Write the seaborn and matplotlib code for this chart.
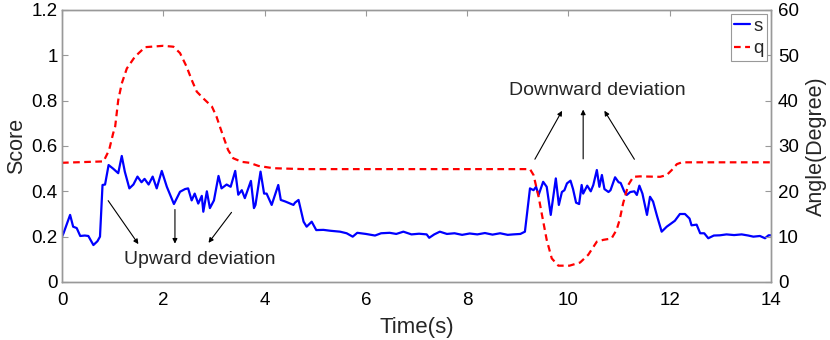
import pandas as pd
import seaborn as sns
import matplotlib.pyplot as plt
import numpy as np

# score s (left axis)
s_time = [0.0, 0.03, 0.16, 0.22, 0.29, 0.36, 0.45, 0.52, 0.62, 0.70, 0.75, 0.80, 0.85, 0.92,
          1.01, 1.11, 1.18, 1.24, 1.33, 1.41, 1.49, 1.57, 1.63, 1.71, 1.79, 1.87, 1.97, 2.07,
          2.21, 2.33, 2.43, 2.49, 2.56, 2.62, 2.69, 2.76, 2.79, 2.86, 2.92, 3.00, 3.09, 3.15,
          3.25, 3.33, 3.42, 3.48, 3.55, 3.61, 3.73, 3.79, 3.82, 3.92, 3.99, 4.04, 4.14, 4.27,
          4.32, 4.41, 4.57, 4.60, 4.67, 4.77, 4.83, 4.93, 5.02, 5.16, 5.30, 5.49, 5.62, 5.74,
          5.83, 6.00, 6.18, 6.30, 6.47, 6.60, 6.74, 6.90, 7.05, 7.20, 7.25, 7.35, 7.46, 7.60,
          7.75, 7.90, 8.05, 8.20, 8.35, 8.50, 8.65, 8.80, 8.91, 9.05, 9.14, 9.24, 9.31, 9.36,
          9.41, 9.50, 9.57, 9.65, 9.75, 9.81, 9.87, 9.92, 9.97, 10.04, 10.09, 10.15, 10.21,
          10.26, 10.29, 10.37, 10.44, 10.49, 10.56, 10.61, 10.66, 10.71, 10.79, 10.83, 10.92,
          10.99, 11.03, 11.10, 11.15, 11.22, 11.30, 11.35, 11.40, 11.46, 11.55, 11.61, 11.67,
          11.75, 11.84, 11.94, 12.10, 12.20, 12.30, 12.39, 12.43, 12.53, 12.60, 12.68, 12.76,
          12.87, 12.99, 13.12, 13.27, 13.42, 13.55, 13.65, 13.78, 13.88, 13.95, 14.0]
s_score = [0.20, 0.215, 0.296, 0.244, 0.238, 0.203, 0.205, 0.203, 0.163, 0.18, 0.20, 0.428, 0.43, 0.516,
           0.50, 0.48, 0.556, 0.487, 0.413, 0.43, 0.465, 0.44, 0.455, 0.43, 0.465, 0.413, 0.49, 0.42,
           0.344, 0.398, 0.41, 0.413, 0.36, 0.39, 0.346, 0.38, 0.31, 0.40, 0.326, 0.36, 0.468, 0.413,
           0.43, 0.42, 0.49, 0.385, 0.405, 0.37, 0.446, 0.326, 0.34, 0.487, 0.39, 0.39, 0.34, 0.428,
           0.362, 0.355, 0.34, 0.35, 0.362, 0.266, 0.244, 0.266, 0.229, 0.23, 0.226, 0.222, 0.215, 0.20,
           0.217, 0.212, 0.205, 0.215, 0.217, 0.212, 0.222, 0.21, 0.213, 0.21, 0.195, 0.21, 0.222, 0.212,
           0.215, 0.208, 0.214, 0.21, 0.216, 0.209, 0.215, 0.208, 0.21, 0.212, 0.222, 0.413, 0.405, 0.42,
           0.384, 0.442, 0.42, 0.296, 0.457, 0.34, 0.397, 0.405, 0.435, 0.447, 0.41, 0.35, 0.344,
           0.428, 0.39, 0.425, 0.40, 0.428, 0.494, 0.42, 0.472, 0.41, 0.397, 0.405, 0.462,
           0.44, 0.437, 0.40, 0.384, 0.397, 0.40, 0.384, 0.425, 0.39, 0.296, 0.376, 0.355,
           0.29, 0.222, 0.244, 0.27, 0.30, 0.30, 0.28, 0.25, 0.253, 0.215, 0.215, 0.193,
           0.205, 0.206, 0.21, 0.207, 0.21, 0.205, 0.20, 0.203, 0.193, 0.206, 0.206]

# angle q (right axis)
q_time = [0.0, 0.82, 0.93, 1.01, 1.05, 1.11, 1.18, 1.28, 1.44, 1.64, 2.00, 2.20, 2.33, 2.46,
          2.56, 2.66, 2.79, 2.96, 3.05, 3.15, 3.28, 3.38, 3.55, 3.70, 3.88, 4.17, 4.77, 9.24,
          9.31, 9.41, 9.47, 9.57, 9.67, 9.80, 10.02, 10.23, 10.39, 10.56, 10.69, 10.85, 10.95,
          11.01, 11.08, 11.18, 11.28, 11.41, 11.81, 11.94, 12.04, 12.14, 12.24, 14.0]
q_angle = [26.3, 26.6, 29.1, 32.8, 34.3, 40.1, 43.8, 47.1, 49.7, 51.8, 52.1, 51.9, 50.5, 47.5,
           44.6, 42.0, 40.5, 38.7, 36.5, 33.2, 29.1, 27.3, 26.5, 26.3, 25.6, 25.1, 24.9, 24.9,
           23.6, 18.8, 15.2, 9.3, 5.2, 3.6, 3.6, 4.3, 6.0, 8.9, 9.3, 9.6, 11.5,
           13.7, 17.4, 21.4, 23.2, 23.3, 23.2, 23.6, 24.7, 26.0, 26.4, 26.4]

df_s = pd.DataFrame({"t": s_time, "s": s_score})
df_q = pd.DataFrame({"t": q_time, "q": q_angle})

sns.set_style("white")
plt.rcParams['font.family'] = ['Liberation Sans', 'DejaVu Sans']

fig = plt.figure(figsize=(8.3, 3.4), dpi=100)
ax = fig.add_axes([0.0747, 0.1706, 0.8543, 0.80])
ax2 = ax.twinx()

sns.lineplot(data=df_s, x="t", y="s", ax=ax, color="blue", linewidth=1.6, label="s", legend=False)
sns.lineplot(data=df_q, x="t", y="q", ax=ax2, color="red", linewidth=1.6, linestyle=(0, (3, 2)),
             label="q", legend=False)

ax.set_xlim(0, 14)
ax.set_ylim(0, 1.2)
ax2.set_ylim(0, 60)
ax.set_xticks(np.arange(0, 15, 2))
ax.set_yticks([0, 0.2, 0.4, 0.6, 0.8, 1.0, 1.2])
ax.set_yticklabels(["0", "0.2", "0.4", "0.6", "0.8", "1", "1.2"])
ax2.set_yticks(np.arange(0, 61, 10))

ax.set_xlabel("Time(s)", fontsize=16, labelpad=6)
ax.set_ylabel("Score", fontsize=15.5, labelpad=3)
ax2.set_ylabel("Angle(Degree)", fontsize=15.5, labelpad=5)

for a in (ax, ax2):
    for sp in a.spines.values():
        sp.set_color("#999999")
        sp.set_linewidth(1.0)
    a.tick_params(direction="in", length=4, color="#999999", labelsize=13.5, pad=3, labelcolor="black")
ax.tick_params(axis="x", pad=7)
ax.tick_params(top=True, right=False)
ax2.tick_params(left=False, right=True, pad=5)

# annotations
arrow = dict(arrowstyle="-|>", color="black", lw=0.8, mutation_scale=7)
ax.text(2.72, 0.10, "Upward deviation", fontsize=14, ha="center", va="center")
for tail, head in [((0.88, 0.369), (1.54, 0.157)),
                   ((2.23, 0.332), (2.23, 0.157)),
                   ((3.38, 0.317), (2.86, 0.163))]:
    ax.annotate("", xy=head, xytext=tail, arrowprops=arrow)

ax.text(10.56, 0.847, "Downward deviation", fontsize=14, ha="center", va="center")
for tail, head in [((9.31, 0.531), (9.90, 0.766)),
                   ((10.29, 0.531), (10.29, 0.773)),
                   ((11.33, 0.531), (10.68, 0.766))]:
    ax.annotate("", xy=head, xytext=tail, arrowprops=arrow)

h1, l1 = ax.get_legend_handles_labels()
h2, l2 = ax2.get_legend_handles_labels()
leg = ax2.legend(h1 + h2, l1 + l2, loc="upper right", fontsize=13.5, handlelength=0.85,
                 handletextpad=0.15, borderpad=0.2, borderaxespad=0.2, fancybox=False,
                 framealpha=1, edgecolor="#999999", labelspacing=0.3)
leg.get_frame().set_linewidth(0.8)

plt.savefig("out.png", dpi=100)
